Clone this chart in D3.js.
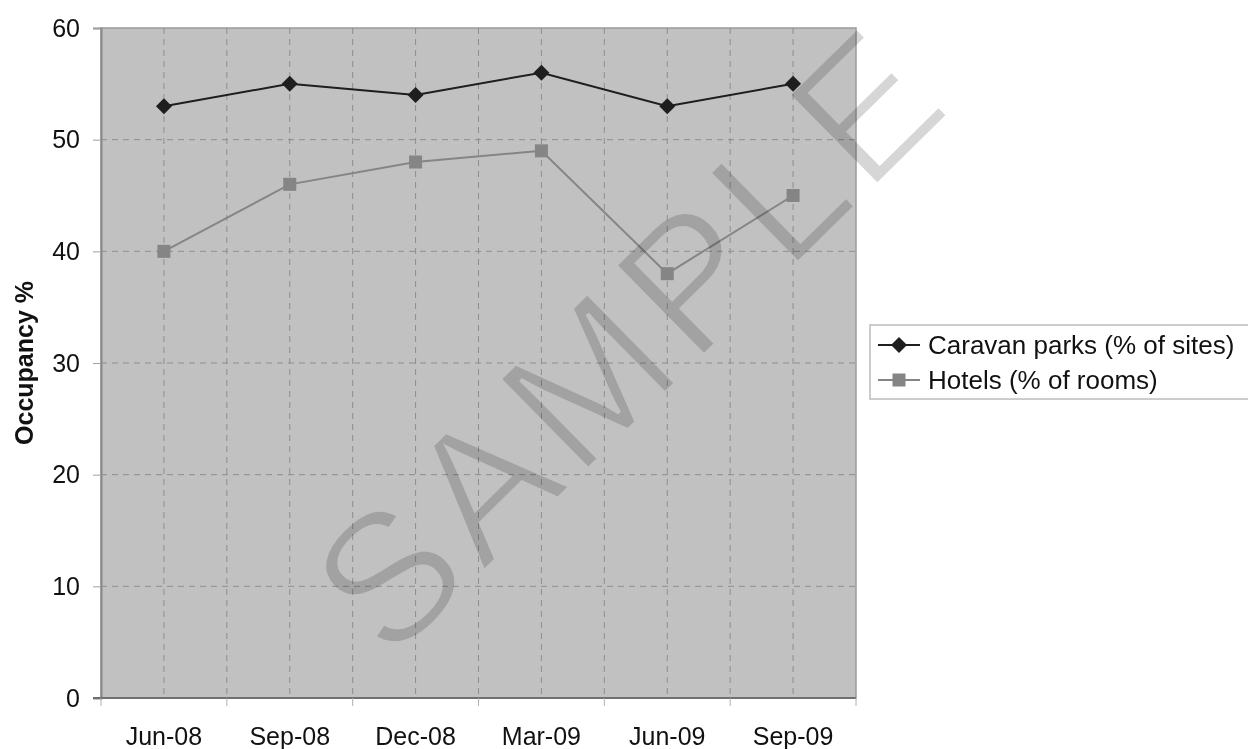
<!DOCTYPE html>
<html>
<head>
<meta charset="utf-8">
<script src="https://cdn.jsdelivr.net/npm/d3@7"></script>
<style>
  body { margin: 0; background: #fff; }
  svg { display: block; font-family: "Liberation Sans", Arial, sans-serif; }
</style>
</head>
<body>
<svg id="chart" width="1248" height="749"></svg>
<script>
const quarters = ['Jun-08', 'Sep-08', 'Dec-08', 'Mar-09', 'Jun-09', 'Sep-09'];
const caravanParks = [53, 55, 54, 56, 53, 55];
const hotels = [40, 46, 48, 49, 38, 45];
const yTicks = [0, 10, 20, 30, 40, 50, 60];

const series = [
    { name: 'Caravan parks (% of sites)', values: caravanParks, color: '#1e1e1e', marker: 'diamond' },
    { name: 'Hotels (% of rooms)', values: hotels, color: '#858585', marker: 'square' },
];

const svg = d3.select('#chart');
const plot = { left: 101, right: 856, top: 28, bottom: 698 };

const x = d3.scaleBand()
    .domain(quarters)
    .range([plot.left, plot.right]);
const y = d3.scaleLinear()
    .domain([0, 60])
    .range([plot.bottom, plot.top]);

const cx = d => x(d) + x.bandwidth() / 2;

// plot background
svg.append('rect')
    .attr('x', plot.left)
    .attr('y', plot.top)
    .attr('width', plot.right - plot.left)
    .attr('height', plot.bottom - plot.top)
    .attr('fill', '#c1c1c1')
    .attr('stroke', '#9a9a9a')
    .attr('stroke-width', 1.5);

// dashed grid - vertical lines at band edges and band centres
const vLines = [];
quarters.forEach((q, i) => {
    vLines.push(cx(q));
    if (i > 0) vLines.push(x(q));
});
svg.append('g')
    .selectAll('line')
    .data(vLines)
    .join('line')
    .attr('x1', d => d).attr('x2', d => d)
    .attr('y1', plot.top).attr('y2', plot.bottom)
    .attr('stroke', '#8e8e8e')
    .attr('stroke-width', 1)
    .attr('stroke-dasharray', '6,5');

svg.append('g')
    .selectAll('line')
    .data(yTicks.filter(t => t > 0 && t < 60))
    .join('line')
    .attr('x1', plot.left).attr('x2', plot.right)
    .attr('y1', d => y(d)).attr('y2', d => y(d))
    .attr('stroke', '#8e8e8e')
    .attr('stroke-width', 1)
    .attr('stroke-dasharray', '6,5');

// y axis
const yAxis = svg.append('g')
    .attr('transform', `translate(${plot.left},0)`)
    .call(d3.axisLeft(y).tickValues(yTicks).tickSize(8).tickPadding(13));
yAxis.select('.domain').attr('stroke', '#8a8a8a').attr('stroke-width', 2);
yAxis.selectAll('.tick line').attr('stroke', '#a0a0a0');
yAxis.selectAll('.tick text')
    .attr('font-size', 25)
    .attr('font-family', '"Liberation Sans", Arial, sans-serif')
    .attr('fill', '#111');

// x axis (ticks at band boundaries, labels at centres)
const xAxis = svg.append('g')
    .attr('transform', `translate(0,${plot.bottom})`);
xAxis.append('line')
    .attr('x1', plot.left - 8).attr('x2', plot.right)
    .attr('y1', 0).attr('y2', 0)
    .attr('stroke', '#707070')
    .attr('stroke-width', 2);
const boundaries = quarters.map(q => x(q)).concat([plot.right]);
xAxis.selectAll('line.tick')
    .data(boundaries)
    .join('line')
    .attr('class', 'tick')
    .attr('x1', d => d).attr('x2', d => d)
    .attr('y1', 0).attr('y2', 8)
    .attr('stroke', '#b0b0b0');
xAxis.selectAll('text')
    .data(quarters)
    .join('text')
    .attr('x', d => cx(d))
    .attr('y', 47)
    .attr('text-anchor', 'middle')
    .attr('font-size', 25)
    .attr('fill', '#111')
    .text(d => d);

// y title
svg.append('text')
    .attr('transform', `translate(33,${(plot.top + plot.bottom) / 2}) rotate(-90)`)
    .attr('text-anchor', 'middle')
    .attr('font-size', 25)
    .attr('font-weight', 'bold')
    .attr('fill', '#111')
    .text('Occupancy %');

function drawMarker(g, type, color) {
    if (type === 'diamond') {
        g.append('path')
            .attr('d', 'M0,-8L8,0L0,8L-8,0Z')
            .attr('fill', color);
    } else {
        g.append('rect')
            .attr('x', -6.5).attr('y', -6.5)
            .attr('width', 13).attr('height', 13)
            .attr('fill', color);
    }
}

const line = d3.line()
    .x((d, i) => cx(quarters[i]))
    .y(d => y(d));

series.slice().reverse().forEach(s => {
    svg.append('path')
        .datum(s.values)
        .attr('d', line)
        .attr('fill', 'none')
        .attr('stroke', s.color)
        .attr('stroke-width', 2);
    s.values.forEach((v, i) => {
        const g = svg.append('g')
            .attr('transform', `translate(${cx(quarters[i])},${y(v)})`);
        drawMarker(g, s.marker, s.color);
    });
});

// legend
const legend = svg.append('g');
legend.append('rect')
    .attr('x', 870).attr('y', 325)
    .attr('width', 400).attr('height', 74)
    .attr('fill', '#fff')
    .attr('stroke', '#bcbcbc')
    .attr('stroke-width', 1.5);
series.forEach((s, i) => {
    const ly = 345 + i * 35;
    legend.append('line')
        .attr('x1', 878).attr('x2', 920)
        .attr('y1', ly).attr('y2', ly)
        .attr('stroke', s.color)
        .attr('stroke-width', 2);
    drawMarker(legend.append('g').attr('transform', `translate(899,${ly})`), s.marker, s.color);
    legend.append('text')
        .attr('x', 928).attr('y', ly)
        .attr('dy', '0.35em')
        .attr('font-size', 26)
        .attr('fill', '#111')
        .text(s.name);
});

// watermark (white stroke under multiply thins the letters)
svg.append('text')
    .attr('transform', 'translate(675,384) rotate(-44.5)')
    .attr('text-anchor', 'middle')
    .attr('font-size', 184)
    .attr('letter-spacing', 9)
    .attr('fill', '#d6d6d6')
    .attr('stroke', '#fff')
    .attr('stroke-width', 4)
    .style('mix-blend-mode', 'multiply')
    .text('SAMPLE');
</script>
</body>
</html>
